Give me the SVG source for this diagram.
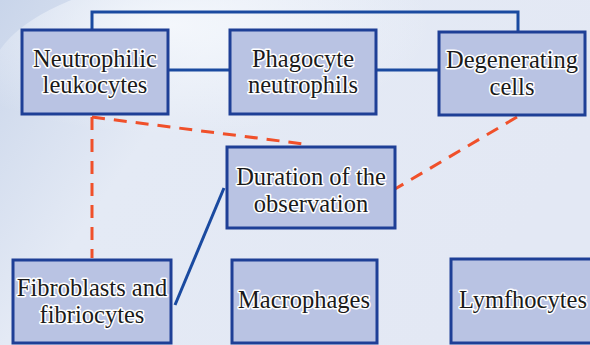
<svg xmlns="http://www.w3.org/2000/svg" width="590" height="345" viewBox="0 0 590 345">
<defs>
<linearGradient id="bg" x1="0" y1="0" x2="1" y2="0.4">
<stop offset="0" stop-color="#c9d5ea"/>
<stop offset="0.35" stop-color="#e4eaf5"/>
<stop offset="1" stop-color="#e3e8f4"/>
</linearGradient>
<radialGradient id="cloud" cx="0.35" cy="0.25" r="0.5">
<stop offset="0" stop-color="#f6f9fd" stop-opacity="0.9"/>
<stop offset="1" stop-color="#f6f9fd" stop-opacity="0"/>
</radialGradient>
</defs>
<style>
.box{fill:#b9c3e3;stroke:#1e3f96;stroke-width:3}
.t{font-family:'Liberation Serif','Times New Roman',serif;font-size:24.5px;fill:#1a1a1a;text-anchor:middle;stroke:#ffffff;stroke-width:3;stroke-linejoin:round;paint-order:stroke}
.solid{stroke:#1a4aa0;stroke-width:3;fill:none}
.dash{stroke:#f0502a;stroke-width:3;fill:none;stroke-dasharray:13 9}
</style>
<rect width="590" height="345" fill="url(#bg)"/>
<ellipse cx="250" cy="80" rx="260" ry="110" fill="url(#cloud)"/>
<g id="connectors">
<polyline class="solid" points="92,30 92,12 518,12 518,32"/>
<line class="solid" x1="168" y1="70" x2="230" y2="70"/>
<line class="solid" x1="376" y1="70" x2="439" y2="70"/>
<line class="solid" x1="175" y1="305" x2="224" y2="188"/>
<line class="dash" x1="92" y1="117" x2="92" y2="258"/>
<line class="dash" x1="92" y1="117" x2="304" y2="144"/>
<line class="dash" x1="517" y1="117" x2="395" y2="189"/>
</g>
<g id="neutrophilic">
<rect class="box" x="22" y="30" width="146" height="84"/>
<text class="t" x="95" y="67">Neutrophilic</text>
<text class="t" x="95" y="93">leukocytes</text>
</g>
<g id="phagocyte">
<rect class="box" x="230" y="30" width="146" height="84"/>
<text class="t" x="303" y="67">Phagocyte</text>
<text class="t" x="303" y="93">neutrophils</text>
</g>
<g id="degenerating">
<rect class="box" x="439" y="32" width="146" height="83"/>
<text class="t" x="512" y="68">Degenerating</text>
<text class="t" x="512" y="95">cells</text>
</g>
<g id="duration">
<rect class="box" x="227" y="147" width="168" height="81"/>
<text class="t" x="311" y="185">Duration of the</text>
<text class="t" x="311" y="212">observation</text>
</g>
<g id="fibroblasts">
<rect class="box" x="13" y="260" width="158" height="83"/>
<text class="t" x="92" y="296">Fibroblasts and</text>
<text class="t" x="92" y="323">fibriocytes</text>
</g>
<g id="macrophages">
<rect class="box" x="232" y="260" width="145" height="83"/>
<text class="t" x="304" y="308">Macrophages</text>
</g>
<g id="lymfhocytes">
<rect class="box" x="451" y="259" width="146" height="84"/>
<text class="t" x="523" y="308">Lymfhocytes</text>
</g>
</svg>
